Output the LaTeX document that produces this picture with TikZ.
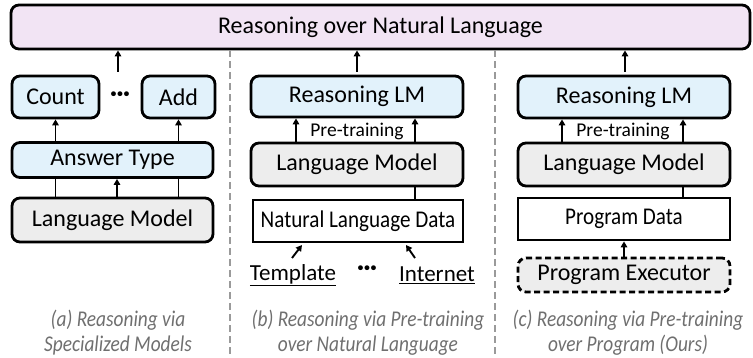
\documentclass[tikz,border=0pt]{standalone}
\usepackage{fontspec}
\usepackage{graphicx}
\setmainfont{Carlito}
\newfontfamily\condfont[FakeStretch=0.88]{Carlito}
\newfontfamily\capfont[FakeStretch=0.86]{Carlito}
\usetikzlibrary{arrows.meta}
\definecolor{pinkfill}{HTML}{F2E4F4}
\definecolor{bluefill}{HTML}{E2F2FB}
\definecolor{grayfill}{HTML}{EDEDED}
\definecolor{capgray}{HTML}{6F6F6F}
\definecolor{sepgray}{HTML}{9A9A9A}
\tikzset{
  box/.style={draw, line width=2.8pt, rounded corners=8pt, inner sep=0pt, text=black,
    font=\fontsize{24}{28}\selectfont},
  pinkbox/.style={box, fill=pinkfill},
  bluebox/.style={box, fill=bluefill},
  graybox/.style={box, fill=grayfill},
  execbox/.style={box, fill=grayfill, dash pattern=on 6pt off 3.5pt},
  databox/.style={draw, line width=2.8pt, fill=white, inner sep=0pt, text=black,
    font=\condfont\fontsize{24}{28}\selectfont},
  arr/.style={line width=1.9pt, -{Triangle[length=6pt,width=6.5pt]}},
  conn/.style={line width=1.9pt},
  sepline/.style={sepgray, line width=1.3pt, dash pattern=on 7pt off 4pt},
  ptlabel/.style={inner sep=0pt, font=\fontsize{19.5}{22}\selectfont},
  srclabel/.style={inner sep=0pt, font=\fontsize{23}{26}\selectfont},
  dotlabel/.style={inner sep=0pt, font=\bfseries\fontsize{26}{26}\selectfont},
  caption/.style={inner sep=0pt, align=center, text=capgray,
    font=\capfont\itshape\fontsize{22.5}{25}\selectfont}
}
\begin{document}
\begin{tikzpicture}[x=1pt,y=-1pt]
\useasboundingbox (0,0) rectangle (753,358);

% top
\node[pinkbox, minimum width=739pt, minimum height=44pt] (top) at (380.5,27) {Reasoning over Natural Language};

% separators
\coordinate (s1) at (230,358);
\coordinate (s2) at (495,358);
\draw[sepline] (s1 |- top.south) -- (s1);
\draw[sepline] (s2 |- top.south) -- (s2);

% panel a
\node[bluebox, minimum width=87pt, minimum height=42pt] (count) at (55.5,97) {Count};
\node[bluebox, minimum width=73pt, minimum height=42pt] (add) at (178.5,97) {Add};
\node[dotlabel] (dotsA) at (120,97) {\textperiodcentered\kern-0.5pt\textperiodcentered\kern-0.5pt\textperiodcentered};
\node[bluebox, minimum width=201pt, minimum height=35pt] (at) at (112.5,160) {Answer Type};
\node[graybox, minimum width=201pt, minimum height=44pt] (lmA) at (112.5,220) {Language Model};
\draw[arr] (count.south |- at.north) -- (count.south);
\draw[arr] (add.south |- at.north) -- (add.south);
\draw[conn] (count.south |- lmA.north) -- (count.south |- at.south);
\draw[conn] (add.south |- lmA.north) -- (add.south |- at.south);
\draw[arr] ([xshift=4.5pt]lmA.north) -- ([xshift=4.5pt]at.south);
\coordinate (upA) at (118,72);
\draw[arr] (upA) -- (upA |- top.south);
\node[caption] (capA) at (118,332.5) {(a) Reasoning via\\Specialized Models};

% panel b
\node[bluebox, minimum width=212pt, minimum height=41pt] (rlmB) at (357,96.5) {Reasoning LM};
\node[ptlabel] (ptB) at (357,131) {Pre-training};
\node[graybox, minimum width=212pt, minimum height=43pt] (lmB) at (357,164.5) {Language Model};
\node[databox, minimum width=210pt, minimum height=42pt] (nldB) at (358,221) {Natural Language Data};
\draw[arr] ([xshift=-61pt]lmB.north) -- ([xshift=-61pt]rlmB.south);
\draw[arr] ([xshift=58pt]lmB.north) -- ([xshift=58pt]rlmB.south);
\draw[conn] ([xshift=58pt]lmB.south) -- ([xshift=57pt]nldB.north);
\node[srclabel] (tmpl) at (293,275) {\underline{Template}};
\node[srclabel] (inet) at (437,275) {\underline{Internet}};
\node[dotlabel] (dotsB) at (367,271) {\textperiodcentered\kern-0.5pt\textperiodcentered\kern-0.5pt\textperiodcentered};
\coordinate (tmplA) at (292,258);
\coordinate (tmplB) at (302,245);
\coordinate (inetA) at (415,258);
\coordinate (inetB) at (406,245);
\draw[arr] (tmplA) -- (tmplB);
\draw[arr] (inetA) -- (inetB);
\coordinate (upB) at (357,72);
\draw[arr] (upB) -- (upB |- top.south);
\node[caption] (capB) at (368,332.5) {(b) Reasoning via Pre-training\\over Natural Language};

% panel c
\node[bluebox, minimum width=212pt, minimum height=42pt] (rlmC) at (624,97) {Reasoning LM};
\node[ptlabel] (ptC) at (623,131) {Pre-training};
\node[graybox, minimum width=212pt, minimum height=43pt] (lmC) at (624,164.5) {Language Model};
\node[databox, minimum width=212pt, minimum height=42pt] (pdC) at (624,219) {Program Data};
\node[execbox, minimum width=212pt, minimum height=34pt] (exC) at (624,275) {Program Executor};
\draw[arr] ([xshift=-62pt]lmC.north) -- ([xshift=-62pt]rlmC.south);
\draw[arr] ([xshift=59pt]lmC.north) -- ([xshift=59pt]rlmC.south);
\draw[conn] ([xshift=59pt]lmC.south) -- ([xshift=59pt]pdC.north);
\draw[arr] (exC.north) -- (pdC.south);
\coordinate (upC) at (625,72);
\draw[arr] (upC) -- (upC |- top.south);
\node[caption] (capC) at (628,332.5) {(c) Reasoning via Pre-training\\over Program (Ours)};
\end{tikzpicture}
\end{document}
